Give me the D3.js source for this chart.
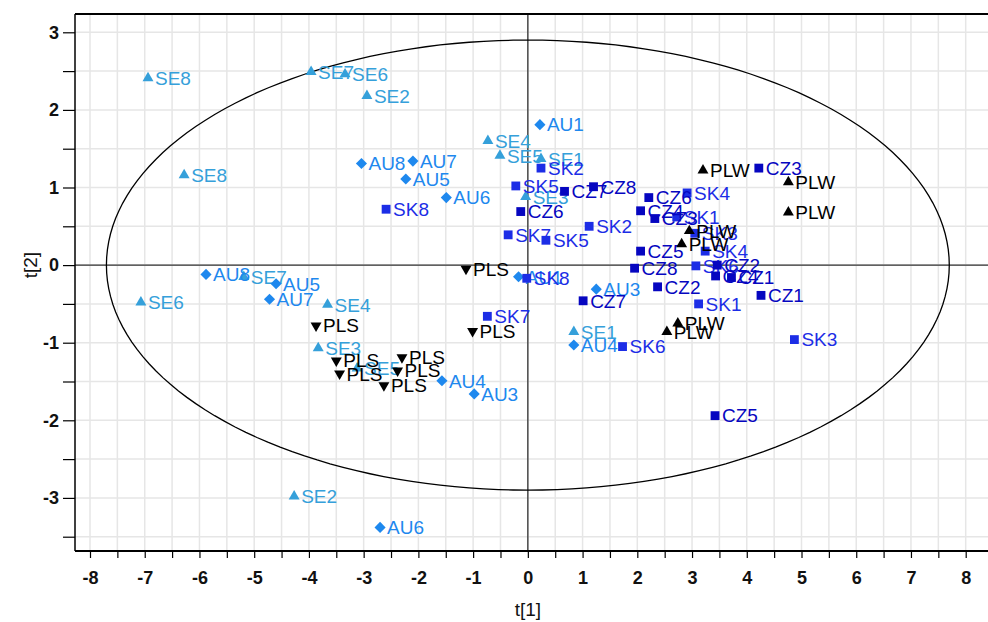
<!DOCTYPE html>
<html>
<head>
<meta charset="utf-8">
<script src="https://cdn.jsdelivr.net/npm/d3@7"></script>
<style>
  body { margin: 0; background: #fff; }
  svg { display: block; }
</style>
</head>
<body>
<svg id="chart"></svg>
<script>
// score values: [label, t1, t2]
var seData = [
	["SE8", -6.94, 2.41], ["SE7", -3.96, 2.49], ["SE6", -3.34, 2.46], ["SE2", -2.94, 2.18],
	["SE8", -6.28, 1.16], ["SE4", -0.73, 1.6], ["SE5", -0.51, 1.41], ["SE1", 0.24, 1.37],
	["SE3", -0.04, 0.88], ["SE7", -5.19, -0.15], ["SE6", -7.07, -0.48], ["SE4", -3.66, -0.51],
	["SE3", -3.83, -1.07], ["SE5", -3.12, -1.33], ["SE1", 0.84, -0.86], ["SE2", -4.27, -2.98]
]
var auData = [
	["AU1", 0.22, 1.81], ["AU8", -3.04, 1.31], ["AU7", -2.1, 1.34], ["AU5", -2.23, 1.11],
	["AU6", -1.49, 0.87], ["AU8", -5.88, -0.12], ["AU5", -4.6, -0.24], ["AU7", -4.72, -0.44],
	["AU1", -0.17, -0.15], ["AU3", 1.25, -0.31], ["AU4", 0.84, -1.03], ["AU4", -1.57, -1.49],
	["AU3", -0.98, -1.66], ["AU6", -2.7, -3.38]
]
var skData = [
	["SK2", 0.24, 1.25], ["SK5", -0.22, 1.02], ["SK8", -2.59, 0.72], ["SK7", -0.36, 0.39],
	["SK5", 0.33, 0.32], ["SK2", 1.12, 0.5], ["SK8", -0.02, -0.17], ["SK4", 2.91, 0.93],
	["SK1", 2.72, 0.62], ["SK3", 3.05, 0.41], ["SK4", 3.24, 0.18], ["SK6", 3.07, -0.01],
	["SK1", 3.12, -0.5], ["SK3", 4.87, -0.96], ["SK6", 1.73, -1.05], ["SK7", -0.74, -0.66]
]
var czData = [
	["CZ7", 0.67, 0.95], ["CZ8", 1.2, 1.01], ["CZ6", -0.13, 0.69], ["CZ3", 4.22, 1.25],
	["CZ6", 2.21, 0.87], ["CZ4", 2.06, 0.7], ["CZ3", 2.32, 0.6], ["CZ5", 2.06, 0.18],
	["CZ8", 1.95, -0.04], ["CZ2", 2.37, -0.28], ["CZ2", 3.46, 0.0], ["CZ4", 3.43, -0.14],
	["CZ1", 3.72, -0.16], ["CZ1", 4.26, -0.39], ["CZ7", 1.01, -0.46], ["CZ5", 3.42, -1.94]
]
var plwData = [
	["PLW", 3.2, 1.22], ["PLW", 4.76, 1.07], ["PLW", 4.76, 0.68], ["PLW", 2.95, 0.44],
	["PLW", 2.81, 0.27], ["PLW", 2.74, -0.75], ["PLW", 2.54, -0.86]
]
var plsData = [
	["PLS", -1.13, -0.05], ["PLS", -3.87, -0.78], ["PLS", -1.01, -0.85], ["PLS", -3.5, -1.23],
	["PLS", -3.44, -1.4], ["PLS", -2.3, -1.19], ["PLS", -2.38, -1.36], ["PLS", -2.63, -1.55]
]
var xTicks = d3.range(-8, 8.01, 0.5)
var yTicks = d3.range(-3.5, 3.01, 0.5)
// Hotelling ellipse semi-axes
var ellipseA = 7.7
var ellipseB = 2.9

var groups = [
	{ data: seData, symbol: d3.symbolTriangle, size: 52, color: "#35a0da", rotate: 0 },
	{ data: auData, symbol: d3.symbolSquare, size: 62, color: "#1e88ee", rotate: 45 },
	{ data: skData, symbol: d3.symbolSquare, size: 78, color: "#1c2de6", rotate: 0 },
	{ data: czData, symbol: d3.symbolSquare, size: 78, color: "#0606c0", rotate: 0 },
	{ data: plwData, symbol: d3.symbolTriangle, size: 52, color: "#000000", rotate: 0 },
	{ data: plsData, symbol: d3.symbolTriangle, size: 52, color: "#000000", rotate: 180 }
]

var width = 988
var height = 622
var plot = { left: 75, top: 14, right: 992, bottom: 551 }

var x = d3.scaleLinear().domain([-8, 8]).range([90, 965.7])
var y = d3.scaleLinear().domain([-3.5, 3]).range([536.7, 32.3])

var svg = d3.select("#chart").attr("width", width).attr("height", height)

svg.append("defs").append("clipPath").attr("id", "clip")
	.append("rect")
	.attr("x", plot.left).attr("y", plot.top)
	.attr("width", plot.right - plot.left).attr("height", plot.bottom - plot.top)

var grid = svg.append("g").attr("clip-path", "url(#clip)")

grid.selectAll(".vgrid").data(xTicks).enter().append("line")
	.attr("x1", d => x(d)).attr("x2", d => x(d))
	.attr("y1", plot.top).attr("y2", plot.bottom)
	.attr("stroke", "#e6e6e6").attr("stroke-width", 1.5)

grid.selectAll(".hgrid").data(yTicks).enter().append("line")
	.attr("x1", plot.left).attr("x2", plot.right)
	.attr("y1", d => y(d)).attr("y2", d => y(d))
	.attr("stroke", "#e6e6e6").attr("stroke-width", 1.5)

// zero lines
grid.append("line")
	.attr("x1", x(0)).attr("x2", x(0)).attr("y1", plot.top).attr("y2", plot.bottom)
	.attr("stroke", "#333").attr("stroke-width", 1.3)
grid.append("line")
	.attr("x1", plot.left).attr("x2", plot.right).attr("y1", y(0)).attr("y2", y(0))
	.attr("stroke", "#333").attr("stroke-width", 1.3)

// ellipse
var ellipsePts = d3.range(0, 361, 2).map(function (a) {
	var t = a * Math.PI / 180
	return [ellipseA * Math.cos(t), ellipseB * Math.sin(t)]
})
grid.append("path")
	.datum(ellipsePts)
	.attr("d", d3.line().x(d => x(d[0])).y(d => y(d[1])).curve(d3.curveLinearClosed))
	.attr("fill", "none").attr("stroke", "#000").attr("stroke-width", 1.3)

// points and labels
var marks = svg.append("g").attr("clip-path", "url(#clip)")
groups.forEach(function (g) {
	var sym = d3.symbol().type(g.symbol).size(g.size)
	var pt = marks.selectAll(null).data(g.data).enter().append("g")
		.attr("transform", d => "translate(" + x(d[1]) + "," + y(d[2]) + ")")
	pt.append("path")
		.attr("d", sym)
		.attr("transform", g.rotate ? "rotate(" + g.rotate + ")" : null)
		.attr("fill", g.color)
	pt.append("text")
		.attr("x", 7)
		.attr("dy", "0.36em")
		.attr("fill", g.color)
		.attr("font-family", "Liberation Sans, Arial, sans-serif")
		.attr("font-size", 19)
		.text(d => d[0])
})

// axes
var xAxis = d3.axisBottom(x).tickValues(xTicks).tickSize(7).tickPadding(13)
	.tickFormat(d => Number.isInteger(d) ? d : "")
var yAxis = d3.axisLeft(y).tickValues(yTicks).tickSize(12).tickPadding(4)
	.tickFormat(d => Number.isInteger(d) ? d : "")

var gx = svg.append("g").attr("transform", "translate(0," + plot.bottom + ")").call(xAxis)
var gy = svg.append("g").attr("transform", "translate(" + plot.left + ",0)").call(yAxis)

;[gx, gy].forEach(function (g) {
	g.select(".domain").remove()
	g.selectAll("line").attr("stroke", "#000").attr("stroke-width", 1.2)
	g.selectAll("text")
		.attr("fill", "#111")
		.attr("font-family", "Liberation Sans Narrow, Liberation Sans, Arial, sans-serif")
		.attr("font-weight", "bold")
		.attr("font-size", 18)
		.text(function () { return this.textContent.replace("−", "-") })
})

// frame
svg.append("line").attr("x1", plot.left).attr("x2", plot.right)
	.attr("y1", plot.top).attr("y2", plot.top).attr("stroke", "#000").attr("stroke-width", 2)
svg.append("line").attr("x1", plot.left).attr("x2", plot.right)
	.attr("y1", plot.bottom).attr("y2", plot.bottom).attr("stroke", "#000").attr("stroke-width", 2)
svg.append("line").attr("x1", plot.left).attr("x2", plot.left)
	.attr("y1", plot.top).attr("y2", plot.bottom).attr("stroke", "#000").attr("stroke-width", 1.5)

// axis titles
svg.append("text")
	.attr("x", x(0)).attr("y", 616)
	.attr("text-anchor", "middle")
	.attr("font-family", "Liberation Sans Narrow, Liberation Sans, Arial, sans-serif")
	.attr("font-size", 19).attr("fill", "#111")
	.text("t[1]")
svg.append("text")
	.attr("transform", "translate(37," + y(0) + ") rotate(-90)")
	.attr("text-anchor", "middle")
	.attr("font-family", "Liberation Sans Narrow, Liberation Sans, Arial, sans-serif")
	.attr("font-size", 19).attr("fill", "#111")
	.text("t[2]")
</script>
</body>
</html>
